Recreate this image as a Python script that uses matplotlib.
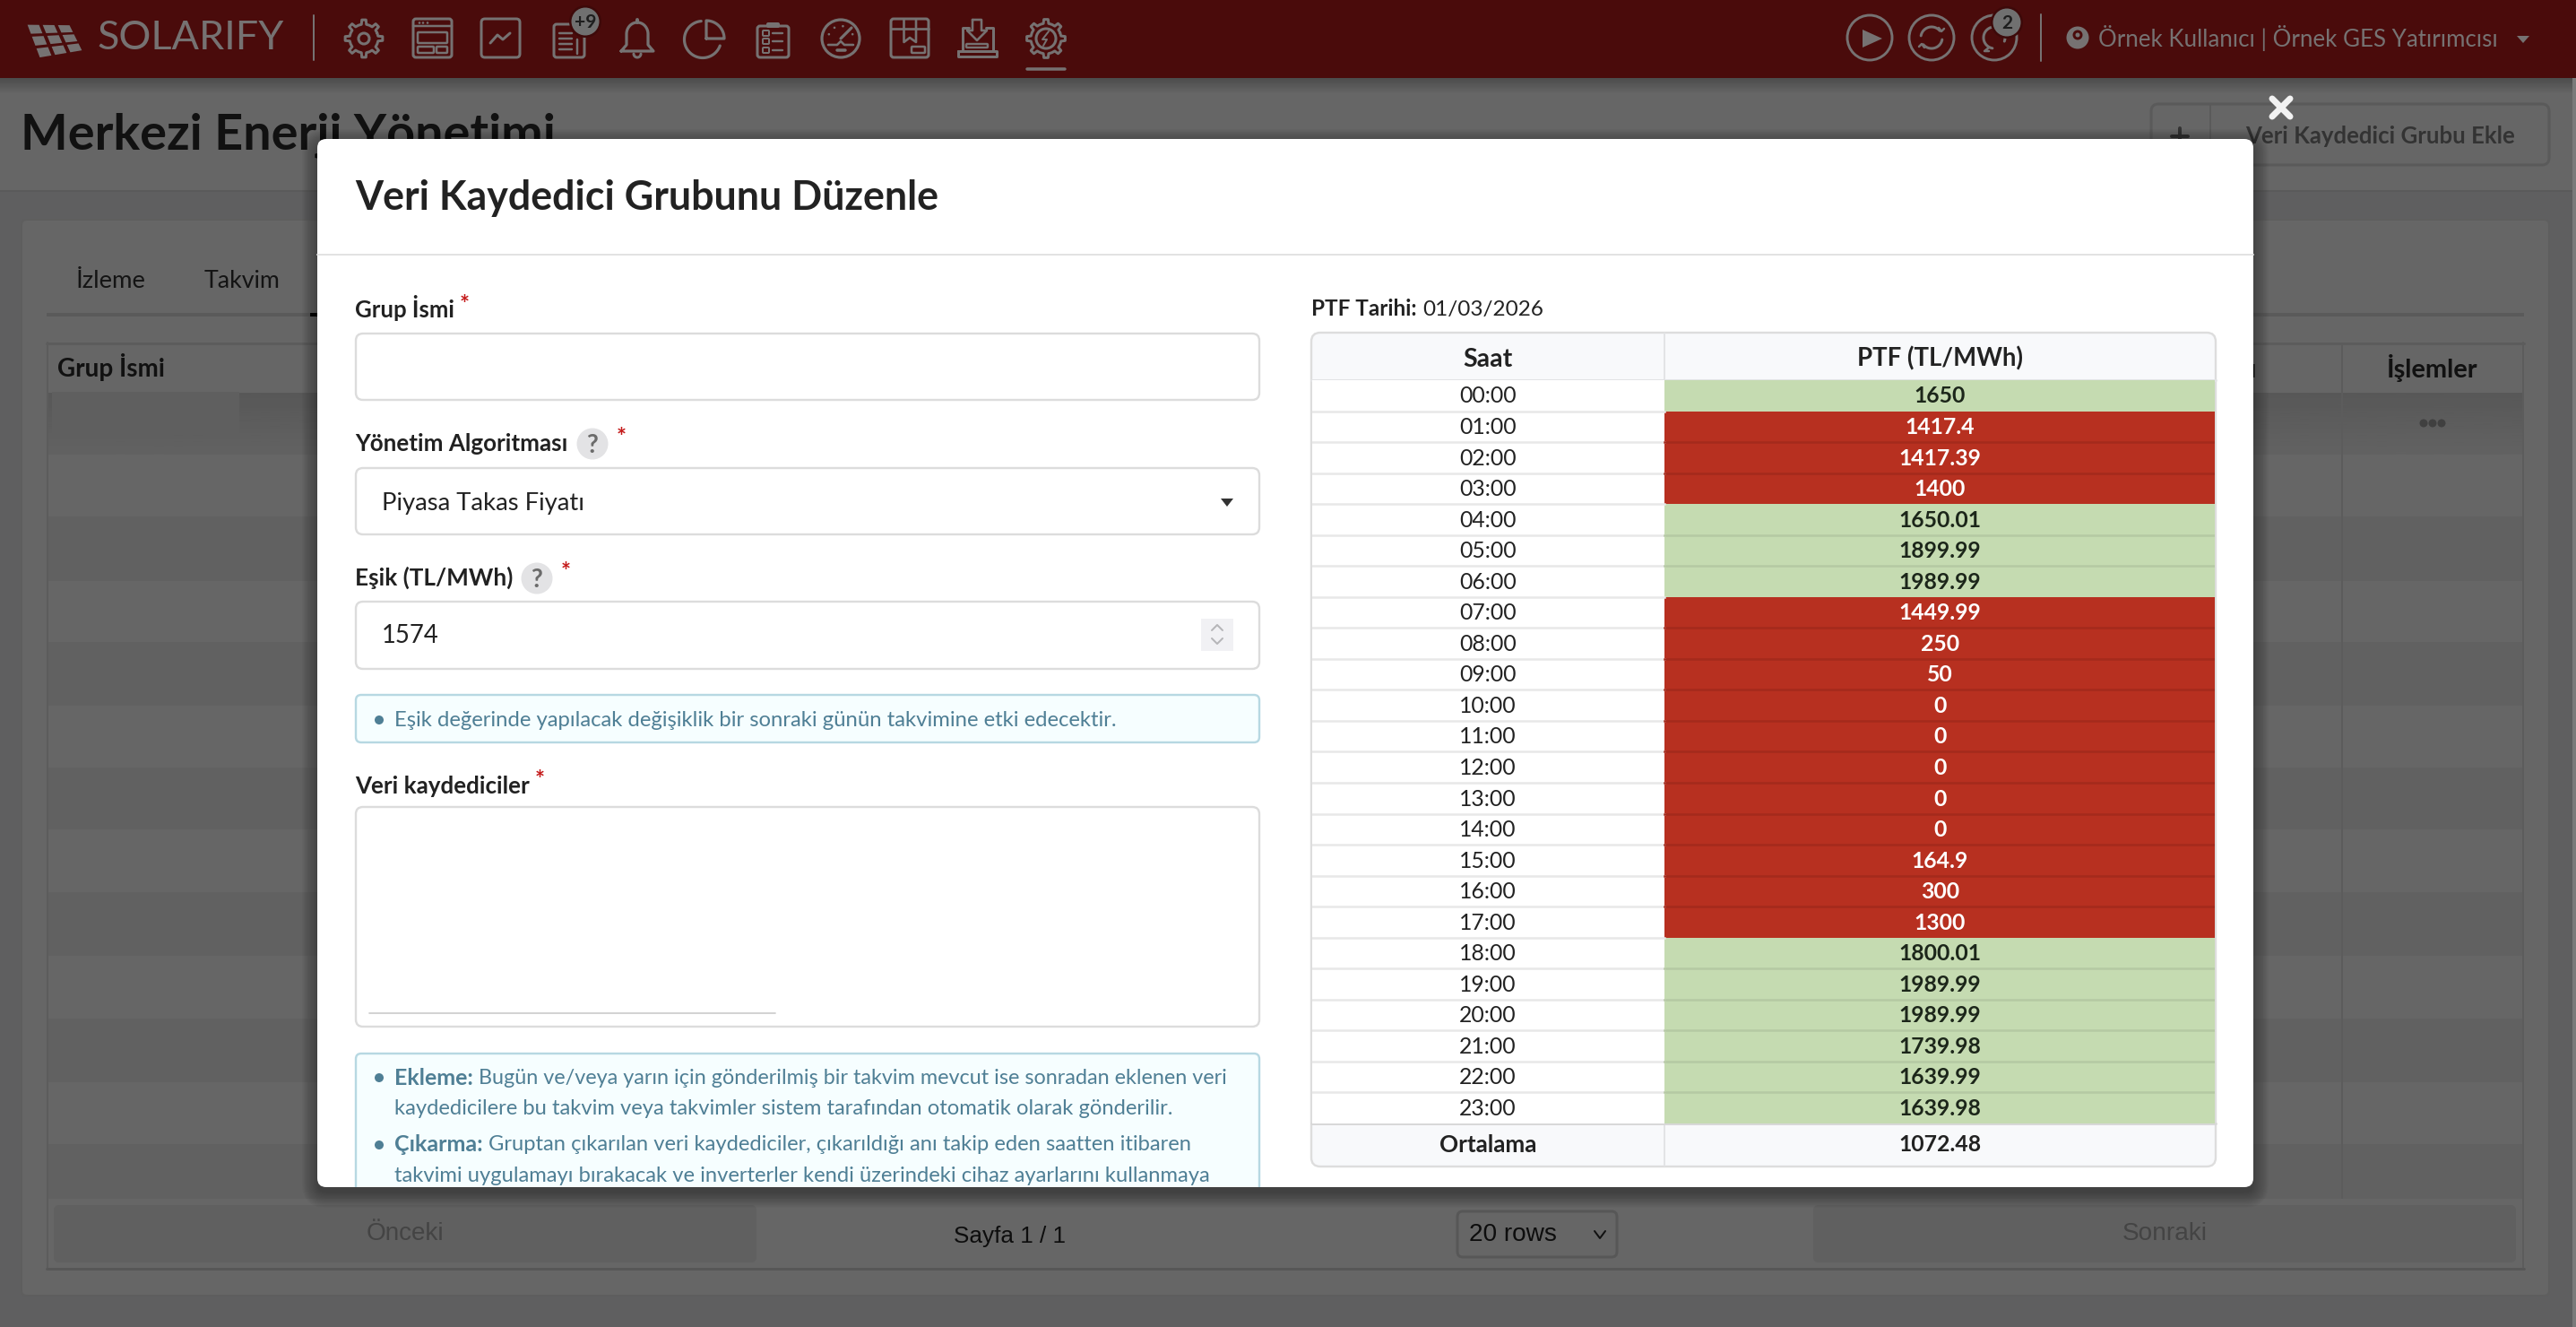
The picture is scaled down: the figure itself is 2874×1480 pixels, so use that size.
import numpy as np
import matplotlib
matplotlib.use("Agg")
import matplotlib.pyplot as plt
from matplotlib.patches import FancyBboxPatch, Rectangle, Circle, Polygon

plt.rcParams['font.family'] = ['Lato', 'DejaVu Sans']

# ---------- data ----------
hours = ["00:00","01:00","02:00","03:00","04:00","05:00","06:00","07:00","08:00","09:00","10:00","11:00",
         "12:00","13:00","14:00","15:00","16:00","17:00","18:00","19:00","20:00","21:00","22:00","23:00"]
ptf_values = [1650,1417.4,1417.39,1400,1650.01,1899.99,1989.99,1449.99,250,50,0,0,
              0,0,0,164.9,300,1300,1800.01,1989.99,1989.99,1739.98,1639.99,1639.98]
threshold = 1574
average_label = "Ortalama"
average_value = "1072.48"
col_headers = ["Saat", "PTF (TL/MWh)"]
ptf_date = "01/03/2026"

W, H = 2874, 1480
RED, GREEN = '#b73020', '#c5dbb1'
RED_B, GREEN_B = '#a42a1c', '#b5c9a3'
IC = '#767272'

fig = plt.figure(figsize=(W/100, H/100), dpi=100)
ax = fig.add_axes([0, 0, 1, 1])
ax.set_axis_off()
ax.set_xlim(0, W)
ax.set_ylim(H, 0)
rend = fig.canvas.get_renderer()

MODAL = (354, 155, 2160, 1169)
BASE = 0.34

def T(s, x, yc, px=28, weight='normal', color='#222222', ha='left', w=None, z=5, family=None, clip=False):
    kw = {}
    if family:
        kw['family'] = family
    t = ax.text(x, yc + BASE*px, s, fontsize=px*0.72, fontweight=weight, color=color, ha=ha, va='baseline', zorder=z, **kw)
    if w is not None:
        cur = t.get_window_extent(rend).width
        fs = px*0.72*w/cur
        t.set_fontsize(fs)
        t.set_y(yc + BASE*fs/0.72)
    if clip:
        t.set_clip_path(Rectangle(MODAL[:2], MODAL[2], MODAL[3], transform=ax.transData))
    return t

def RR(x0, y0, x1, y1, r=8, fc='none', ec='none', lw=2, z=2, alpha=None):
    p = FancyBboxPatch((x0, y0), x1-x0, y1-y0, boxstyle=f"round,pad=0,rounding_size={r}",
                       fc=fc, ec=ec, lw=lw*0.72, zorder=z, alpha=alpha)
    ax.add_patch(p)
    return p

def R(x0, y0, x1, y1, fc, z=1):
    ax.add_patch(Rectangle((x0, y0), x1-x0, y1-y0, fc=fc, ec='none', zorder=z))

def L(xs, ys, lw=3, c=IC, z=3):
    ax.plot(xs, ys, color=c, lw=lw*0.72, solid_capstyle='round', solid_joinstyle='round', zorder=z)

def arc(cx, cy, r, a0, a1, lw=3, c=IC, z=3):
    th = np.radians(np.linspace(a0, a1, 60))
    L(cx + r*np.cos(th), cy + r*np.sin(th), lw, c, z)

def gear(cx, cy, R0=21, R1=16, n=8):
    pts = []
    for i in range(n):
        a = 2*np.pi*i/n
        d = 2*np.pi/n
        for f, rad in [(-0.5, R1), (-0.22, R1), (-0.14, R0), (0.14, R0), (0.22, R1)]:
            pts.append((cx + rad*np.cos(a+f*d), cy + rad*np.sin(a+f*d)))
    pts.append(pts[0])
    pts = np.array(pts)
    L(pts[:, 0], pts[:, 1], 3)

# ---------- page background ----------
R(0, 0, W, H, '#5f5f60', 0)
R(0, 87, W, 213, '#666666', 0.5)
R(0, 212, W, 214, '#5a5a5a', 0.6)
grad = np.linspace(0.30, 0.40, 18)[:, None]
ax.imshow(grad, extent=(0, W, 105, 87), cmap='gray', vmin=0, vmax=1, aspect='auto', zorder=0.7)
R(2870, 87, W, H, '#7a7a7a', 0.8)

# header bar
R(0, 0, W, 87, '#4a0b0b', 1)
# logo panel
TL, TR, BR, BL = map(np.array, [(28, 26), (79, 27), (94, 57), (43, 66)])
def bil(u, v):
    return (1-u)*(1-v)*TL + u*(1-v)*TR + u*v*BR + (1-u)*v*BL
for i in range(3):
    for j in range(3):
        g = 0.04
        u0, u1, v0, v1 = i/3+g, (i+1)/3-g, j/3+g, (j+1)/3-g
        ax.add_patch(Polygon([bil(u0, v0), bil(u1, v0), bil(u1, v1), bil(u0, v1)], fc=IC, ec='none', zorder=3))
T("SOLARIFY", 108, 40, px=48, weight='normal', color=IC, w=208, z=3)
L([350, 350], [17, 67], 2)

# icons
gear(406, 43); ax.add_patch(Circle((406, 43), 6, fc='none', ec=IC, lw=2.2, zorder=3))
# window
RR(461, 21, 504, 64, 3, ec=IC, lw=3, z=3); L([461, 504], [29, 29], 2.5)
for dx in (468, 472, 477):
    ax.add_patch(Circle((dx, 25.5), 1.3, fc=IC, zorder=3))
RR(466, 36, 499, 48, 1, ec=IC, lw=2.5, z=3); RR(466, 52, 484, 59, 1, ec=IC, lw=2.5, z=3); RR(487, 52, 499, 59, 1, ec=IC, lw=2.5, z=3)
# chart
RR(537, 21, 580, 64, 4, ec=IC, lw=3, z=3); L([547, 555, 561, 569], [48, 39, 44, 37], 3)
# doc
RR(618, 27, 652, 64, 3, ec=IC, lw=3, z=3)
for yy in (37, 43, 49, 55):
    L([624, 638], [yy, yy], 2.5)
L([644, 644], [44, 60], 2.5)
# bell
th = np.radians(np.linspace(180, 360, 40))
xs = np.r_[693, 699, 699 + 12 + 12*np.cos(th), 723, 729, 693]
ys = np.r_[57, 50, 38 + 13*np.sin(th), 50, 57, 57]
L(xs, ys, 3.2); L([711, 711], [22, 25], 4); arc(711, 60, 4, 0, 180, 3)
# pie
arc(784, 44, 20.5, 20, 265, 3.2)
th = np.radians(np.linspace(-90, 0, 30))
L(np.r_[788, 788 + 20*np.cos(th), 788], np.r_[43, 43 + 20*np.sin(th), 43], 3.2)
# clipboard
RR(845, 29, 880, 64, 3, ec=IC, lw=3, z=3); RR(855, 25, 870, 31, 2, fc=IC, z=3)
for yy in (37, 46, 56):
    RR(851, yy-3, 858, yy+3, 1, ec=IC, lw=2, z=3); L([862, 873], [yy, yy], 2.4)
# gauge
ax.add_patch(Circle((938, 43), 21, fc='none', ec=IC, lw=2.3, zorder=3))
L([938, 950], [43, 31], 3.2)
L([924, 934, 938, 942, 952], [50, 50, 46, 50, 50], 2.6); L([934, 943], [56, 56], 3.5)
for a_ in (200, 240, 280, 340):
    ax.add_patch(Circle((938+14*np.cos(np.radians(a_)), 43+14*np.sin(np.radians(a_))), 1.3, fc=IC, zorder=3))
# box
RR(994, 21, 1036, 64, 3, ec=IC, lw=3, z=3); L([994, 1036], [32, 32], 2.6)
L([1008.5, 1008.5, 1015, 1022, 1022], [22, 47, 42, 47, 22], 2.6); RR(1017, 52, 1032, 59, 1, ec=IC, lw=2.5, z=3)
# download
L([1081, 1074, 1074], [31, 31, 57], 3); L([1100, 1108, 1108], [31, 31, 57], 3)
L([1069, 1112, 1112, 1069, 1069], [57, 57, 63, 63, 57], 3)
L([1085, 1095, 1095, 1101, 1090, 1079, 1085, 1085], [22, 22, 34, 34, 45, 34, 34, 22], 2.6)
RR(1078, 49, 1102, 53, 1, ec=IC, lw=2.4, z=3)
# active gear
gear(1167, 43, 21.5, 17); ax.add_patch(Circle((1167, 43), 11, fc='none', ec=IC, lw=2.2, zorder=3))
L([1170, 1163, 1168, 1164], [35, 44, 44, 51], 2)
L([1146, 1188], [76.5, 76.5], 3.5)
# +9 badge
ax.add_patch(Circle((653, 24), 18, fc='#3d0909', ec='none', zorder=4))
ax.add_patch(Circle((653, 24), 15.5, fc='#707070', ec='none', zorder=4))
T("+9", 653, 24, px=21, weight='bold', color='#1e1e1e', ha='center', z=5)

# right side
for cx in (2086, 2155, 2225):
    ax.add_patch(Circle((cx, 42), 25, fc='none', ec=IC, lw=2.1, zorder=3))
ax.add_patch(Polygon([(2078, 33), (2078, 53), (2100, 43)], fc=IC, ec='none', zorder=3))
arc(2155, 42, 12, 190, 320, 3); arc(2155, 42, 12, 10, 140, 3)
L([2163, 2166, 2169], [31, 35, 32], 2.5); L([2141, 2144, 2147], [52, 49, 53], 2.5)
arc(2225, 42, 12, 100, 380, 3); L([2219, 2214, 2219], [53, 57, 57], 2.5)
ax.add_patch(Circle((2239, 25), 18, fc='#3d0909', ec='none', zorder=4))
ax.add_patch(Circle((2239, 25), 15.5, fc='#707070', ec='none', zorder=4))
T("2", 2239, 25, px=21, weight='bold', color='#1e1e1e', ha='center', z=5)
L([2277, 2277], [16, 68], 2)
ax.add_patch(Circle((2318, 42), 12.5, fc=IC, zorder=3))
ax.add_patch(Circle((2318, 39), 5.5, fc='#4a0b0b', zorder=3))
ax.add_patch(Circle((2318, 39), 2.5, fc=IC, zorder=3))
T("Örnek Kullanıcı | Örnek GES Yatırımcısı", 2341, 43, px=27, color=IC, w=444, z=3)
ax.add_patch(Polygon([(2808, 40), (2822, 40), (2815, 48)], fc=IC, ec='none', zorder=3))

# page title & button
T("Merkezi Enerji Yönetimi", 23, 148, px=56, weight='bold', color='#111111', w=596, z=1.2)
RR(2400, 116, 2844, 184, 8, fc='#666666', ec='#5a5a5a', lw=3, z=1.2)
L([2466, 2466], [117, 183], 2, '#5a5a5a', 1.3)
L([2423, 2441], [152, 152], 4, '#333333', 1.3); L([2432, 2432], [143, 161], 4, '#333333', 1.3)
T("Veri Kaydedici Grubu Ekle", 2505, 151, px=26, weight='bold', color='#333333', w=300, z=1.3)

# card & tabs
RR(24, 245, 2844, 1445, 6, fc='#666666', ec='#5e5e5e', lw=2, z=1)
T("İzleme", 85, 312, px=28, color='#141414', w=78, z=1.3)
T("Takvim", 228, 312, px=28, color='#141414', w=85, z=1.3)
R(52, 349, 2816, 353, '#5a5a5a', 1.2)
R(346, 349, 360, 353, '#0d0d0d', 1.25)

# background table
R(52, 382, 2816, 1415, '#666666', 1.2)
row_edges = [438, 507, 576, 648, 716, 787, 856, 925, 995, 1066, 1136, 1207, 1276, 1337]
for i in range(len(row_edges)-1):
    R(54, row_edges[i], 2814, row_edges[i+1], '#616161' if i % 2 == 0 else '#666666', 1.25)
grad2 = np.linspace(0.345, 0.385, 30)[:, None]
ax.imshow(grad2, extent=(54, 2814, 507, 438), cmap='gray', vmin=0, vmax=1, aspect='auto', zorder=1.26)
R(58, 437, 267, 485, '#5f5f5f', 1.27)
for xx, yy0, yy1 in [(53, 382, 1415), (2815, 382, 1415), (2613, 384, 1337)]:
    L([xx, xx], [yy0, yy1], 2, '#5c5c5c', 1.28)
L([52, 2816], [383, 383], 3, '#5c5c5c', 1.28); L([52, 2816], [1415, 1415], 3, '#575757', 1.28)
T("Grup İsmi", 64, 411, px=28, weight='bold', color='#111111', w=120, z=1.3)
T("İşlemler", 2714, 411, px=28, weight='bold', color='#111111', ha='center', w=102, z=1.3)
T("Durumu", 2518, 411, px=28, weight='bold', color='#111111', ha='right', z=1.3)
for xx in (2704, 2714, 2724):
    ax.add_patch(Circle((xx, 472), 4.5, fc='#404040', zorder=1.3))
# pagination
R(54, 1337, 2814, 1413, '#666666', 1.29)
RR(60, 1344, 844, 1408, 6, fc='#606060', z=1.3)
RR(2023, 1344, 2807, 1408, 6, fc='#606060', z=1.3)
T("Önceki", 409, 1373, px=32, color='#444444', w=87, z=1.4, family='Liberation Sans')
T("Sonraki", 2415, 1373, px=32, color='#444444', ha='center', w=95, z=1.4, family='Liberation Sans')
T("Sayfa 1 / 1", 1126, 1377, px=30, color='#0d0d0d', ha='center', w=125, z=1.4, family='Liberation Sans')
RR(1626, 1351, 1804, 1402, 6, fc='#666666', ec='#575757', lw=3, z=1.3)
T("20 rows", 1639, 1374, px=30, color='#0d0d0d', w=98, z=1.4, family='Liberation Sans')
L([1779, 1785, 1791], [1373, 1381, 1373], 2, '#111111', 1.4)

# ---------- modal ----------
for i in range(14):
    e = 17 - i*1.3
    RR(MODAL[0]-e, MODAL[1]-e+6, MODAL[0]+MODAL[2]+e, MODAL[1]+MODAL[3]+e+6, 10+e, fc='black', z=3.4+i*0.001, alpha=0.022)
RR(MODAL[0], MODAL[1], MODAL[0]+MODAL[2], MODAL[1]+MODAL[3], 10, fc='white', z=4)
L([2535, 2555], [110, 130], 7, '#f2f2f2', 4.1); L([2555, 2535], [110, 130], 7, '#f2f2f2', 4.1)
T("Veri Kaydedici Grubunu Düzenle", 396, 219, px=48, weight='bold', color='#222222', w=650)
L([354, 2514], [284, 284], 2, '#e2e2e2', 4.5)

# form
EDGE = '#dcdcdc'
LBL = '#212121'
for y0, y1 in [(372, 446), (522, 596), (671, 746), (900, 1145)]:
    RR(397, y0, 1405, y1, 8, fc='white', ec=EDGE, lw=2.4, z=4.5)
def star(x, y):
    T("*", x, y+4, px=26, weight='bold', color='#c41a1a', ha='center')
def help_(cx, cy):
    ax.add_patch(Circle((cx, cy), 17.5, fc='#e3e3e5', zorder=4.6))
    T("?", cx, cy, px=28, weight='bold', color='#6b6b6b', ha='center')
T("Grup İsmi", 396, 345, weight='bold', color=LBL, w=111); star(518, 335)
T("Yönetim Algoritması", 396, 494, weight='bold', color=LBL, w=237); help_(661, 495); star(693, 483)
T("Eşik (TL/MWh)", 396, 644, weight='bold', color=LBL, w=176); help_(599, 645); star(631, 633)
T("Veri kaydediciler", 396, 876, weight='bold', color=LBL, w=195); star(602, 865)
T("Piyasa Takas Fiyatı", 426, 560, px=28, color='#222222', w=226)
ax.add_patch(Polygon([(1362, 556), (1376, 556), (1369, 565)], fc='#333333', zorder=5))
T("1574", 426, 708, px=28, color='#222222', w=64)
R(1340, 690, 1376, 726, '#f1f1f4', 4.6)
L([1352, 1358, 1364], [703, 697, 703], 2, '#b5b5b8', 5); L([1352, 1358, 1364], [712, 718, 712], 2, '#b5b5b8', 5)

INFO_C, INFO_BG, INFO_E = '#4f7f95', '#f6feff', '#b7d8e2'
RR(397, 775, 1405, 828, 6, fc=INFO_BG, ec=INFO_E, lw=2.4, z=4.5)
ax.add_patch(Circle((423, 803), 5, fc=INFO_C, zorder=5))
T("Eşik değerinde yapılacak değişiklik bir sonraki günün takvimine etki edecektir.", 440, 802, px=25, color=INFO_C, w=805)
L([412, 865], [1130, 1130], 1.8, '#cfcfcf', 5)

clip_box = Rectangle(MODAL[:2], MODAL[2], MODAL[3], transform=ax.transData)
box = RR(397, 1175, 1405, 1420, 6, fc=INFO_BG, ec=INFO_E, lw=2.4, z=4.5)
box.set_clip_path(clip_box)
ax.add_patch(Circle((423, 1202), 5, fc=INFO_C, zorder=5))
ax.add_patch(Circle((423, 1277), 5, fc=INFO_C, zorder=5))
a = T("Ekleme:", 440, 1201, px=25, weight='bold', color=INFO_C)
xa = a.get_window_extent(rend).x1 + 6
T("Bugün ve/veya yarın için gönderilmiş bir takvim mevcut ise sonradan eklenen veri", xa, 1201, px=25, color=INFO_C, w=1366-xa)
T("kaydedicilere bu takvim veya takvimler sistem tarafından otomatik olarak gönderilir.", 440, 1235, px=25, color=INFO_C, w=867)
b = T("Çıkarma:", 440, 1275, px=25, weight='bold', color=INFO_C)
xb = b.get_window_extent(rend).x1 + 6
T("Gruptan çıkarılan veri kaydediciler, çıkarıldığı anı takip eden saatten itibaren", xb, 1275, px=25, color=INFO_C, w=1326-xb)
T("takvimi uygulamayı bırakacak ve inverterler kendi üzerindeki cihaz ayarlarını kullanmaya", 440, 1310, px=25, color=INFO_C, w=911, clip=True)

# PTF table frame
T("PTF Tarihi:", 1463, 344, px=26, weight='bold', color='#222222', w=118)
T(ptf_date, 1587, 344, px=26, color='#222222', w=134)
TX0, TX1, TXM, TY0, THB, TRB, TY1 = 1463, 2472, 1857, 371, 424, 1253, 1301
RR(TX0, TY0, TX1, TY1, 10, fc='#f8f9fb', ec='#dddddd', lw=2.4, z=4.5)
L([TXM, TXM], [TY0+1, THB], 2, '#e3e4e6', 4.6); L([TXM, TXM], [TRB, TY1-1], 2, '#e3e4e6', 4.6)
T(col_headers[0], (TX0+TXM)/2, 399, px=28, weight='bold', color='#222222', ha='center', w=55)
T(col_headers[1], (TXM+TX1)/2, 399, px=28, weight='bold', color='#222222', ha='center', w=185)
L([TX0, TX1], [THB, THB], 3, '#e2e3e5', 4.6)
L([TX0, TX1], [TRB, TRB], 3, '#d8d8d8', 4.6)
T(average_label, (TX0+TXM)/2, 1276, px=27, weight='bold', color='#222222', ha='center', w=108)
T(average_value, (TXM+TX1)/2, 1276, px=27, weight='bold', color='#222222', ha='center', w=92)

# PTF rows, one bar per hour in their own axes
at = fig.add_axes([(TX0+1)/W, 1-TRB/H, (TX1-TX0-2)/W, (TRB-THB)/H], zorder=2)
at.set_axis_off()
at.set_xlim(TX0+1, TX1-1)
at.set_ylim(len(hours)-0.5, -0.5)
rows = np.arange(len(hours))
below = [v < threshold for v in ptf_values]
at.barh(rows, TXM-TX0-1, left=TX0+1, height=1, color='white')
at.barh(rows, TX1-1-TXM, left=TXM, height=1, color=[RED if b_ else GREEN for b_ in below])
for i, (h_, v) in enumerate(zip(hours, ptf_values)):
    at.text((TX0+TXM)/2, i+0.02, h_, fontsize=17.8, color='#222222', ha='center', va='center')
    at.text((TXM+TX1)/2, i+0.02, str(v), fontsize=17.8, fontweight='bold',
            color='white' if below[i] else '#1c261a', ha='center', va='center')
    if i:
        at.plot([TX0+1, TXM], [i-0.5, i-0.5], color='#e8e8e8', lw=1.8)
        if below[i] == below[i-1]:
            at.plot([TXM, TX1-1], [i-0.5, i-0.5], color=RED_B if below[i] else GREEN_B, lw=1.8)

fig.savefig("out.png", dpi=100)
